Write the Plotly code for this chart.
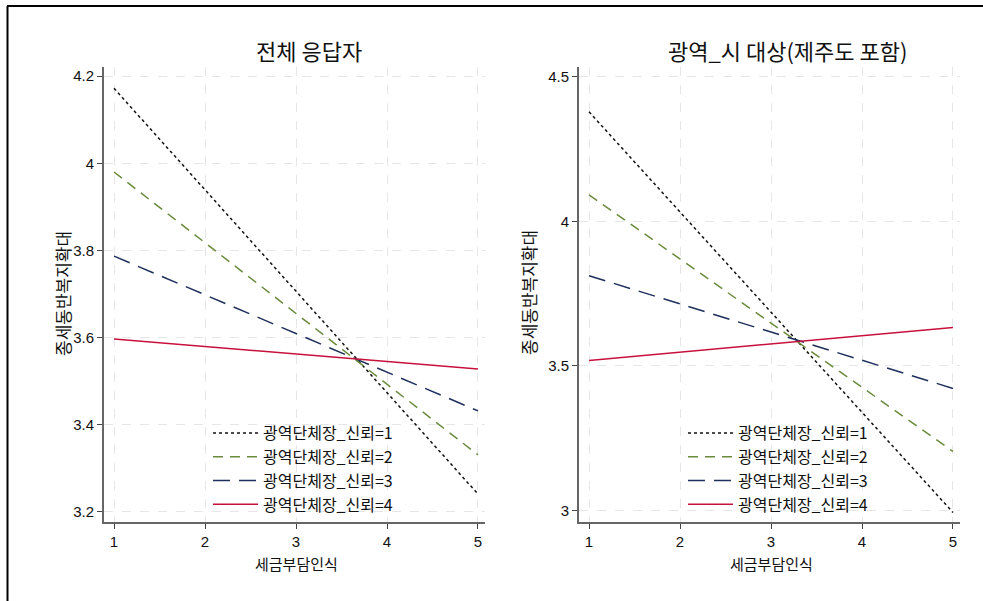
import plotly.graph_objects as go

x_vals = [1, 5]
series_names = ["광역단체장_신뢰=1", "광역단체장_신뢰=2", "광역단체장_신뢰=3", "광역단체장_신뢰=4"]
left_values = [
    [4.172, 3.241],
    [3.980, 3.331],
    [3.787, 3.432],
    [3.597, 3.528],
]
right_values = [
    [4.379, 2.993],
    [4.092, 3.204],
    [3.812, 3.422],
    [3.519, 3.633],
]
left_title = "전체 응답자"
right_title = "광역_시 대상(제주도 포함)"
x_title = "세금부담인식"
y_title = "종세동반복지확대"
x_ticks = [1, 2, 3, 4, 5]
left_yticks = [3.2, 3.4, 3.6, 3.8, 4.0, 4.2]
left_yticklabels = ["3.2", "3.4", "3.6", "3.8", "4", "4.2"]
right_yticks = [3.0, 3.5, 4.0, 4.5]
right_yticklabels = ["3", "3.5", "4", "4.5"]

colors = ["#111111", "#6a8a3c", "#1e2f5c", "#c8103c"]
dashes = ["dot", "10px,7px", "17px,9px", "solid"]

W, H = 983, 601
KFONT = "Noto Sans CJK KR"
NFONT = "Liberation Sans"

def px(xp):
    return xp / W

def py(yp):
    return 1 - yp / H

fig = go.Figure()
for i, name in enumerate(series_names):
    fig.add_trace(go.Scatter(
        x=x_vals, y=left_values[i], mode="lines", name=name,
        line=dict(color=colors[i], dash=dashes[i], width=1.5),
        xaxis="x", yaxis="y", legend="legend", legendgroup="L%d" % i,
    ))
for i, name in enumerate(series_names):
    fig.add_trace(go.Scatter(
        x=x_vals, y=right_values[i], mode="lines", name=name,
        line=dict(color=colors[i], dash=dashes[i], width=1.5),
        xaxis="x2", yaxis="y2", legend="legend2", legendgroup="R%d" % i,
    ))

axis_common = dict(
    showline=True, linecolor="#666666", linewidth=2,
    ticks="outside", ticklen=5, tickcolor="#444444", tickwidth=1,
    showgrid=True, gridcolor="#e6e6e6", griddash="dash", gridwidth=1,
    zeroline=False, tickfont=dict(family=NFONT, size=15, color="#111111"),
    fixedrange=True,
)

legend_common = dict(
    xanchor="left", yanchor="top", bgcolor="rgba(255,255,255,0)",
    font=dict(family=KFONT, size=16, color="#111111"),
    tracegroupgap=0, traceorder="grouped", itemwidth=45,
)

ybot, ytop = py(522), py(67)
fig.update_layout(
    width=W, height=H,
    margin=dict(l=0, r=0, t=0, b=0),
    paper_bgcolor="white", plot_bgcolor="white",
    xaxis=dict(domain=[px(104), px(485)], range=[0.89, 5.077],
               tickvals=x_ticks, anchor="y", **axis_common),
    yaxis=dict(domain=[ybot, ytop], range=[3.177, 4.221],
               tickvals=left_yticks, ticktext=left_yticklabels, anchor="x", **axis_common),
    xaxis2=dict(domain=[px(579), px(960)], range=[0.89, 5.077],
                tickvals=x_ticks, anchor="y2", **axis_common),
    yaxis2=dict(domain=[ybot, ytop], range=[2.96, 4.534],
                tickvals=right_yticks, ticktext=right_yticklabels, anchor="x2", **axis_common),
    legend=dict(x=px(208), y=py(416), **legend_common),
    legend2=dict(x=px(683), y=py(416), **legend_common),
    showlegend=True,
)

ann = []
ann.append(dict(text=left_title, x=px(309), y=py(50), xref="paper", yref="paper",
                xanchor="center", yanchor="middle",
                showarrow=False, font=dict(family=KFONT, size=22, color="#111111")))
ann.append(dict(text=right_title, x=px(787), y=py(50), xref="paper", yref="paper",
                xanchor="center", yanchor="middle",
                showarrow=False, font=dict(family=KFONT, size=22, color="#111111")))
for xc in (296, 771):
    ann.append(dict(text=x_title, x=px(xc), y=py(563), xref="paper", yref="paper",
                    xanchor="center", yanchor="middle",
                    showarrow=False, font=dict(family=KFONT, size=15, color="#111111")))
for xc in (62, 528):
    ann.append(dict(text=y_title, x=px(xc), y=py(293), xref="paper", yref="paper",
                    xanchor="center", yanchor="middle",
                    showarrow=False, textangle=-90, font=dict(family=KFONT, size=17, color="#111111")))
fig.update_layout(annotations=ann)

fig.add_shape(type="line", xref="paper", yref="paper", x0=px(7), x1=1.0, y0=py(6), y1=py(6),
              line=dict(color="black", width=2))
fig.add_shape(type="line", xref="paper", yref="paper", x0=px(7.5), x1=px(7.5), y0=py(6), y1=0,
              line=dict(color="black", width=2))

fig.write_html("out.html", config={"displayModeBar": False},
               post_script="document.body.style.margin='0';")
